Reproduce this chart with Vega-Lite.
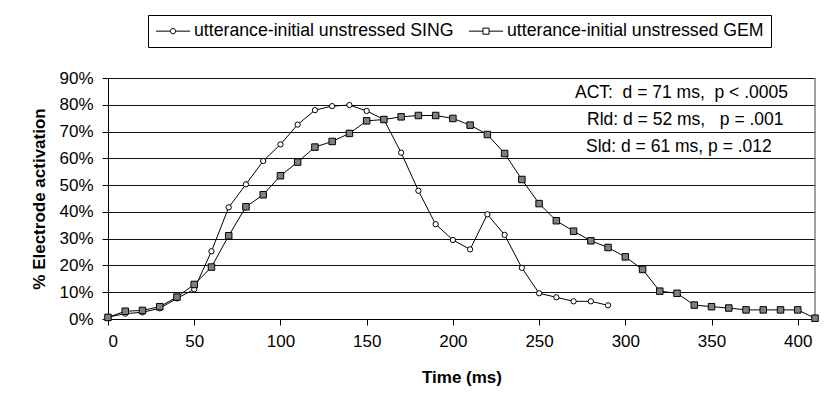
{
  "$schema": "https://vega.github.io/schema/vega-lite/v6.json",
  "width": 707,
  "height": 241,
  "autosize": {"type": "none"},
  "padding": {"left": 108, "top": 78, "right": 15, "bottom": 84},
  "background": "white",
  "config": {
    "font": "Liberation Sans",
    "view": {"stroke": null},
    "axis": {
      "labelFont": "Liberation Sans",
      "titleFont": "Liberation Sans",
      "labelColor": "black",
      "titleColor": "black",
      "domainColor": "black",
      "tickColor": "black",
      "labelFontSize": 17,
      "titleFontSize": 17,
      "titleFontWeight": "bold",
      "labelOverlap": false
    }
  },
  "datasets": {
    "series": [
      {"series": "utterance-initial unstressed SING", "t": 0, "v": 0.007},
      {"series": "utterance-initial unstressed SING", "t": 10, "v": 0.02},
      {"series": "utterance-initial unstressed SING", "t": 20, "v": 0.025},
      {"series": "utterance-initial unstressed SING", "t": 30, "v": 0.04},
      {"series": "utterance-initial unstressed SING", "t": 40, "v": 0.077},
      {"series": "utterance-initial unstressed SING", "t": 50, "v": 0.111},
      {"series": "utterance-initial unstressed SING", "t": 60, "v": 0.253},
      {"series": "utterance-initial unstressed SING", "t": 70, "v": 0.417},
      {"series": "utterance-initial unstressed SING", "t": 80, "v": 0.503},
      {"series": "utterance-initial unstressed SING", "t": 90, "v": 0.59},
      {"series": "utterance-initial unstressed SING", "t": 100, "v": 0.652},
      {"series": "utterance-initial unstressed SING", "t": 110, "v": 0.726},
      {"series": "utterance-initial unstressed SING", "t": 120, "v": 0.78},
      {"series": "utterance-initial unstressed SING", "t": 130, "v": 0.795},
      {"series": "utterance-initial unstressed SING", "t": 140, "v": 0.799},
      {"series": "utterance-initial unstressed SING", "t": 150, "v": 0.777},
      {"series": "utterance-initial unstressed SING", "t": 160, "v": 0.745},
      {"series": "utterance-initial unstressed SING", "t": 170, "v": 0.621},
      {"series": "utterance-initial unstressed SING", "t": 180, "v": 0.479},
      {"series": "utterance-initial unstressed SING", "t": 190, "v": 0.354},
      {"series": "utterance-initial unstressed SING", "t": 200, "v": 0.295},
      {"series": "utterance-initial unstressed SING", "t": 210, "v": 0.26},
      {"series": "utterance-initial unstressed SING", "t": 220, "v": 0.391},
      {"series": "utterance-initial unstressed SING", "t": 230, "v": 0.314},
      {"series": "utterance-initial unstressed SING", "t": 240, "v": 0.191},
      {"series": "utterance-initial unstressed SING", "t": 250, "v": 0.096},
      {"series": "utterance-initial unstressed SING", "t": 260, "v": 0.081},
      {"series": "utterance-initial unstressed SING", "t": 270, "v": 0.066},
      {"series": "utterance-initial unstressed SING", "t": 280, "v": 0.066},
      {"series": "utterance-initial unstressed SING", "t": 290, "v": 0.051},
      {"series": "utterance-initial unstressed GEM", "t": 0, "v": 0.006},
      {"series": "utterance-initial unstressed GEM", "t": 10, "v": 0.029},
      {"series": "utterance-initial unstressed GEM", "t": 20, "v": 0.032},
      {"series": "utterance-initial unstressed GEM", "t": 30, "v": 0.046},
      {"series": "utterance-initial unstressed GEM", "t": 40, "v": 0.082},
      {"series": "utterance-initial unstressed GEM", "t": 50, "v": 0.129},
      {"series": "utterance-initial unstressed GEM", "t": 60, "v": 0.194},
      {"series": "utterance-initial unstressed GEM", "t": 70, "v": 0.311},
      {"series": "utterance-initial unstressed GEM", "t": 80, "v": 0.419},
      {"series": "utterance-initial unstressed GEM", "t": 90, "v": 0.464},
      {"series": "utterance-initial unstressed GEM", "t": 100, "v": 0.535},
      {"series": "utterance-initial unstressed GEM", "t": 110, "v": 0.586},
      {"series": "utterance-initial unstressed GEM", "t": 120, "v": 0.642},
      {"series": "utterance-initial unstressed GEM", "t": 130, "v": 0.663},
      {"series": "utterance-initial unstressed GEM", "t": 140, "v": 0.693},
      {"series": "utterance-initial unstressed GEM", "t": 150, "v": 0.74},
      {"series": "utterance-initial unstressed GEM", "t": 160, "v": 0.745},
      {"series": "utterance-initial unstressed GEM", "t": 170, "v": 0.755},
      {"series": "utterance-initial unstressed GEM", "t": 180, "v": 0.76},
      {"series": "utterance-initial unstressed GEM", "t": 190, "v": 0.76},
      {"series": "utterance-initial unstressed GEM", "t": 200, "v": 0.749},
      {"series": "utterance-initial unstressed GEM", "t": 210, "v": 0.724},
      {"series": "utterance-initial unstressed GEM", "t": 220, "v": 0.689},
      {"series": "utterance-initial unstressed GEM", "t": 230, "v": 0.618},
      {"series": "utterance-initial unstressed GEM", "t": 240, "v": 0.521},
      {"series": "utterance-initial unstressed GEM", "t": 250, "v": 0.431},
      {"series": "utterance-initial unstressed GEM", "t": 260, "v": 0.367},
      {"series": "utterance-initial unstressed GEM", "t": 270, "v": 0.328},
      {"series": "utterance-initial unstressed GEM", "t": 280, "v": 0.292},
      {"series": "utterance-initial unstressed GEM", "t": 290, "v": 0.267},
      {"series": "utterance-initial unstressed GEM", "t": 300, "v": 0.232},
      {"series": "utterance-initial unstressed GEM", "t": 310, "v": 0.185},
      {"series": "utterance-initial unstressed GEM", "t": 320, "v": 0.104},
      {"series": "utterance-initial unstressed GEM", "t": 330, "v": 0.096},
      {"series": "utterance-initial unstressed GEM", "t": 340, "v": 0.052},
      {"series": "utterance-initial unstressed GEM", "t": 350, "v": 0.046},
      {"series": "utterance-initial unstressed GEM", "t": 360, "v": 0.041},
      {"series": "utterance-initial unstressed GEM", "t": 370, "v": 0.034},
      {"series": "utterance-initial unstressed GEM", "t": 380, "v": 0.034},
      {"series": "utterance-initial unstressed GEM", "t": 390, "v": 0.034},
      {"series": "utterance-initial unstressed GEM", "t": 400, "v": 0.034},
      {"series": "utterance-initial unstressed GEM", "t": 410, "v": 0.003}
    ],
    "notes": [
      {"label": "ACT:\u00a0 d = 71 ms,\u00a0 p < .0005", "t": 270.8, "v": 0.825},
      {"label": "Rld: d = 52 ms,\u00a0\u00a0 p = .001", "t": 277.8, "v": 0.724},
      {"label": "Sld: d = 61 ms, p = .012", "t": 277.2, "v": 0.624}
    ]
  },
  "encoding": {
    "x": {
      "field": "t", "type": "quantitative",
      "scale": {"domain": [0, 410], "nice": false, "zero": false},
      "axis": {
        "values": [0, 50, 100, 150, 200, 250, 300, 350, 400],
        "title": "Time (ms)", "grid": false, "tickSize": 6,
        "labelPadding": 8, "titlePadding": 20
      }
    },
    "y": {
      "field": "v", "type": "quantitative",
      "scale": {"domain": [0, 0.9], "nice": false},
      "axis": {
        "values": [0, 0.1, 0.2, 0.3, 0.4, 0.5, 0.6, 0.7, 0.8, 0.9],
        "format": ".0%", "title": "% Electrode activation",
        "grid": true, "gridColor": "#111111", "gridOpacity": 1,
        "tickSize": 6, "labelPadding": 9, "titlePadding": 10
      }
    }
  },
  "layer": [
    {
      "data": {"name": "series"},
      "transform": [{"filter": "datum.t === 410"}],
      "mark": {"type": "rule", "color": "#808080", "strokeWidth": 1.5},
      "encoding": {
        "y": {"datum": 0, "type": "quantitative"},
        "y2": {"datum": 0.9}
      }
    },
    {
      "data": {"name": "series"},
      "mark": {"type": "line", "color": "black", "strokeWidth": 1},
      "encoding": {
        "detail": {"field": "series"}
      }
    },
    {
      "data": {"name": "series"},
      "transform": [{"filter": "datum.series === 'utterance-initial unstressed SING'"}],
      "mark": {"type": "point", "shape": "circle", "size": 28, "filled": true, "fill": "white", "stroke": "black", "strokeWidth": 1, "opacity": 1}
    },
    {
      "data": {"name": "series"},
      "transform": [{"filter": "datum.series === 'utterance-initial unstressed GEM'"}],
      "mark": {"type": "point", "shape": "square", "size": 42, "filled": true, "fill": "#808080", "stroke": "black", "strokeWidth": 1, "opacity": 1}
    },
    {
      "data": {"name": "series"},
      "transform": [{"filter": "datum.t === 0"}],
      "mark": {"type": "point", "filled": true, "opacity": 0, "stroke": "black"},
      "encoding": {
        "shape": {
          "field": "series", "type": "nominal",
          "scale": {
            "domain": ["utterance-initial unstressed SING", "utterance-initial unstressed GEM"],
            "range": [
              "M-2,0H-0.31M0.31,0H2M0.31,0A0.31,0.31,0,1,1,-0.31,0A0.31,0.31,0,1,1,0.31,0Z",
              "M-2,0H-0.36M0.36,0H2M-0.36,-0.36H0.36V0.36H-0.36Z"
            ]
          }
        },
        "fill": {
          "field": "series", "type": "nominal",
          "scale": {"domain": ["utterance-initial unstressed SING", "utterance-initial unstressed GEM"], "range": ["white", "#808080"]},
          "legend": {
            "title": null,
            "orient": "none",
            "legendX": 40,
            "legendY": -63,
            "direction": "horizontal",
            "fillColor": "white",
            "strokeColor": "black",
            "padding": 7,
            "symbolSize": 289,
            "symbolOffset": 9,
            "labelOffset": 12,
            "columnPadding": 13,
            "labelFontSize": 17.7,
            "labelFont": "Liberation Sans",
            "labelColor": "black",
            "labelLimit": 0,
            "symbolOpacity": 1,
            "symbolStrokeWidth": 1,
            "symbolStrokeColor": "black"
          }
        }
      }
    },
    {
      "data": {"name": "notes"},
      "mark": {"type": "text", "align": "left", "baseline": "alphabetic", "fontSize": 17.5, "color": "black", "font": "Liberation Sans"},
      "encoding": {
        "text": {"field": "label"}
      }
    }
  ]
}
